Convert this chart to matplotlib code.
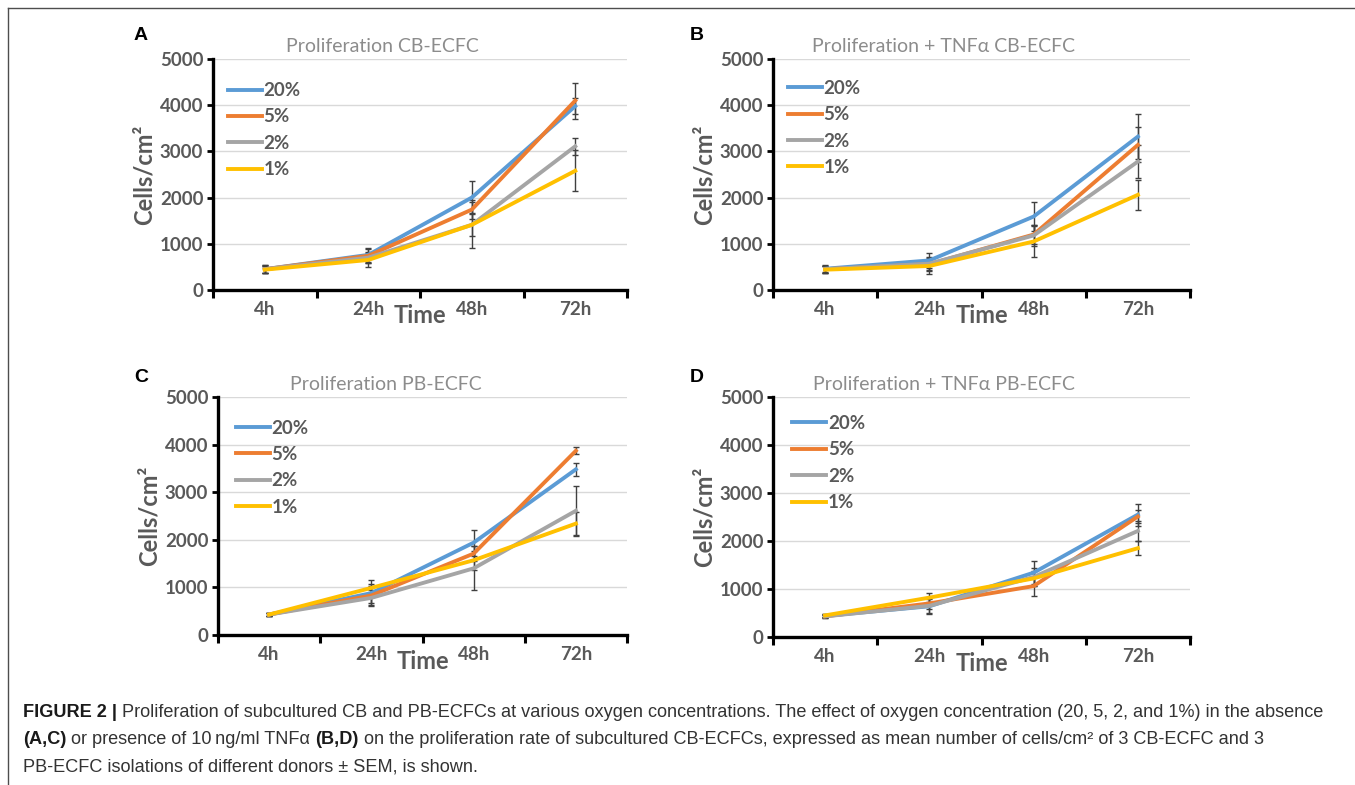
import numpy as np
import matplotlib
matplotlib.use("Agg")
import matplotlib.pyplot as plt
from matplotlib.lines import Line2D

# ---- data ----
times = ['4h', '24h', '48h', '72h']
oxygen = ['20%', '5%', '2%', '1%']

# A: Proliferation CB-ECFC
a_mean_20 = [450, 760, 2000, 3980]
a_mean_5 = [450, 740, 1740, 4100]
a_mean_2 = [450, 700, 1410, 3110]
a_mean_1 = [440, 650, 1410, 2580]
a_err_20 = [90, 150, 350, 180]
a_err_5 = [90, 150, 200, 390]
a_err_2 = [80, 120, 250, 180]
a_err_1 = [80, 150, 500, 440]

# B: Proliferation + TNFa CB-ECFC
b_mean_20 = [460, 640, 1590, 3320]
b_mean_5 = [450, 560, 1200, 3140]
b_mean_2 = [450, 570, 1180, 2780]
b_mean_1 = [440, 520, 1050, 2060]
b_err_20 = [80, 160, 310, 490]
b_err_5 = [80, 120, 200, 380]
b_err_2 = [80, 150, 230, 350]
b_err_1 = [80, 180, 340, 330]

# C: Proliferation PB-ECFC
c_mean_20 = [430, 880, 1940, 3480]
c_mean_5 = [430, 830, 1710, 3870]
c_mean_2 = [430, 780, 1400, 2610]
c_mean_1 = [430, 990, 1570, 2340]
c_err_20 = [30, 200, 270, 130]
c_err_5 = [30, 200, 150, 70]
c_err_2 = [30, 170, 460, 530]
c_err_1 = [30, 160, 200, 240]

# D: Proliferation + TNFa PB-ECFC
d_mean_20 = [440, 640, 1340, 2550]
d_mean_5 = [430, 700, 1060, 2510]
d_mean_2 = [430, 650, 1250, 2210]
d_mean_1 = [450, 820, 1220, 1850]
d_err_20 = [30, 150, 240, 230]
d_err_5 = [30, 120, 200, 130]
d_err_2 = [30, 170, 180, 200]
d_err_1 = [30, 100, 150, 150]

titles = ['Proliferation CB-ECFC', 'Proliferation + TNFα CB-ECFC',
          'Proliferation PB-ECFC', 'Proliferation + TNFα PB-ECFC']
letters = ['A', 'B', 'C', 'D']

colors = ['#5B9BD5', '#ED7D31', '#A5A5A5', '#FFC000']
txt_gray = '#595959'

plt.rcParams['font.family'] = ['Lato', 'DejaVu Sans']

W, H = 1355, 785
fig = plt.figure(figsize=(W / 100, H / 100), dpi=100)


def box(l, t, r, b):
    return [l / W, 1 - b / H, (r - l) / W, (b - t) / H]


# pixel boxes of the four plot areas, plus legend anchor
panels = [
    (box(213, 59, 627, 290), (0.036, 0.90)),
    (box(773, 59, 1190, 290), (0.036, 0.91)),
    (box(218, 397, 627, 635), (0.044, 0.905)),
    (box(773, 397, 1190, 637), (0.046, 0.925)),
]
means = [
    [a_mean_20, a_mean_5, a_mean_2, a_mean_1],
    [b_mean_20, b_mean_5, b_mean_2, b_mean_1],
    [c_mean_20, c_mean_5, c_mean_2, c_mean_1],
    [d_mean_20, d_mean_5, d_mean_2, d_mean_1],
]
errs = [
    [a_err_20, a_err_5, a_err_2, a_err_1],
    [b_err_20, b_err_5, b_err_2, b_err_1],
    [c_err_20, c_err_5, c_err_2, c_err_1],
    [d_err_20, d_err_5, d_err_2, d_err_1],
]

x = np.arange(len(times))
for i in range(4):
    rect, leg_at = panels[i]
    ax = fig.add_axes(rect)
    for m, e, c in zip(means[i], errs[i], colors):
        ax.errorbar(x, m, yerr=e, color=c, lw=2.8, ecolor='#404040',
                    elinewidth=1.0, capsize=2.5, capthick=1.0, zorder=3)

    ax.set_xlim(-0.5, 3.5)
    ax.set_ylim(0, 5000)
    ax.set_yticks(range(0, 5001, 1000))
    ax.yaxis.grid(True, color='#d9d9d9', lw=1.0)
    ax.set_axisbelow(True)

    # Excel style category axis: ticks between categories, labels in the middle
    ax.set_xticks([-0.5, 0.5, 1.5, 2.5, 3.5])
    ax.set_xticklabels([])
    ax.set_xticks(x, minor=True)
    ax.set_xticklabels(times, minor=True)
    ax.tick_params(axis='x', which='major', length=6, width=2.2, direction='out')
    ax.tick_params(axis='x', which='minor', length=0, pad=8, labelsize=13.5,
                   labelcolor=txt_gray)
    ax.tick_params(axis='y', length=4, width=2.0, pad=3, labelsize=13.5,
                   labelcolor=txt_gray)
    for lab in ax.get_xticklabels(minor=True) + ax.get_yticklabels():
        lab.set_fontweight('bold')

    for s in ['top', 'right']:
        ax.spines[s].set_visible(False)
    for s in ['left', 'bottom']:
        ax.spines[s].set_linewidth(2.4)
        ax.spines[s].set_color('black')

    ax.set_ylabel('Cells/cm²', fontsize=17, fontweight='bold', color=txt_gray,
                  labelpad=3)
    ax.text(0.5, -0.112, 'Time', transform=ax.transAxes, ha='center',
            va='center', fontsize=17, fontweight='bold', color=txt_gray)
    ax.text(0.41, 1.03, titles[i], transform=ax.transAxes, ha='center',
            va='baseline', fontsize=14, color='#8c8c8c')

    handles = [Line2D([], [], color=c, lw=2.8) for c in colors]
    leg = ax.legend(handles, oxygen, loc='upper left', bbox_to_anchor=leg_at,
                    frameon=False, borderpad=0, borderaxespad=0,
                    handlelength=1.8, handletextpad=0.1, labelspacing=0.5,
                    prop={'size': 13.5, 'weight': 'bold'})
    for t in leg.get_texts():
        t.set_color(txt_gray)

# panel letters
for lab, (px, py) in zip(letters, [(141, 36), (697, 36), (141, 378), (697, 378)]):
    fig.text(px / W, 1 - py / H, lab, ha='center', va='center', fontsize=14,
             fontweight='bold', family='Liberation Sans', color='black')

# frame lines (top and left only)
fig.add_artist(Line2D([8 / W, 8 / W], [0, 1 - 8 / H], transform=fig.transFigure,
                      color='#4d4d4d', lw=1.0))
fig.add_artist(Line2D([8 / W, 1], [1 - 8 / H, 1 - 8 / H], transform=fig.transFigure,
                      color='#4d4d4d', lw=1.0))

# caption, bold and regular pieces placed one after another
caption = [
    (717, [('FIGURE 2 | ', 'bold'),
           ('Proliferation of subcultured CB and PB-ECFCs at various oxygen '
            'concentrations. The effect of oxygen concentration (20, 5, 2, and 1%) '
            'in the absence', 'normal')]),
    (744, [('(A,C)', 'bold'),
           (' or presence of 10\u2009ng/ml TNFα ', 'normal'),
           ('(B,D)', 'bold'),
           (' on the proliferation rate of subcultured CB-ECFCs, expressed as mean '
            'number of cells/cm² of 3 CB-ECFC and 3', 'normal')]),
    (771, [('PB-ECFC isolations of different donors ± SEM, is shown.', 'normal')]),
]
fig.canvas.draw()
renderer = fig.canvas.get_renderer()
for base_y, pieces in caption:
    cx = 23
    for s, w in pieces:
        col = '#1a1a1a' if w == 'bold' else '#333333'
        t = fig.text(cx / W, 1 - base_y / H, s, ha='left', va='baseline',
                     fontsize=13.1, fontweight=w, color=col,
                     family=['Liberation Sans', 'DejaVu Sans'])
        cx += t.get_window_extent(renderer).width

fig.savefig('out.png', dpi=100)
